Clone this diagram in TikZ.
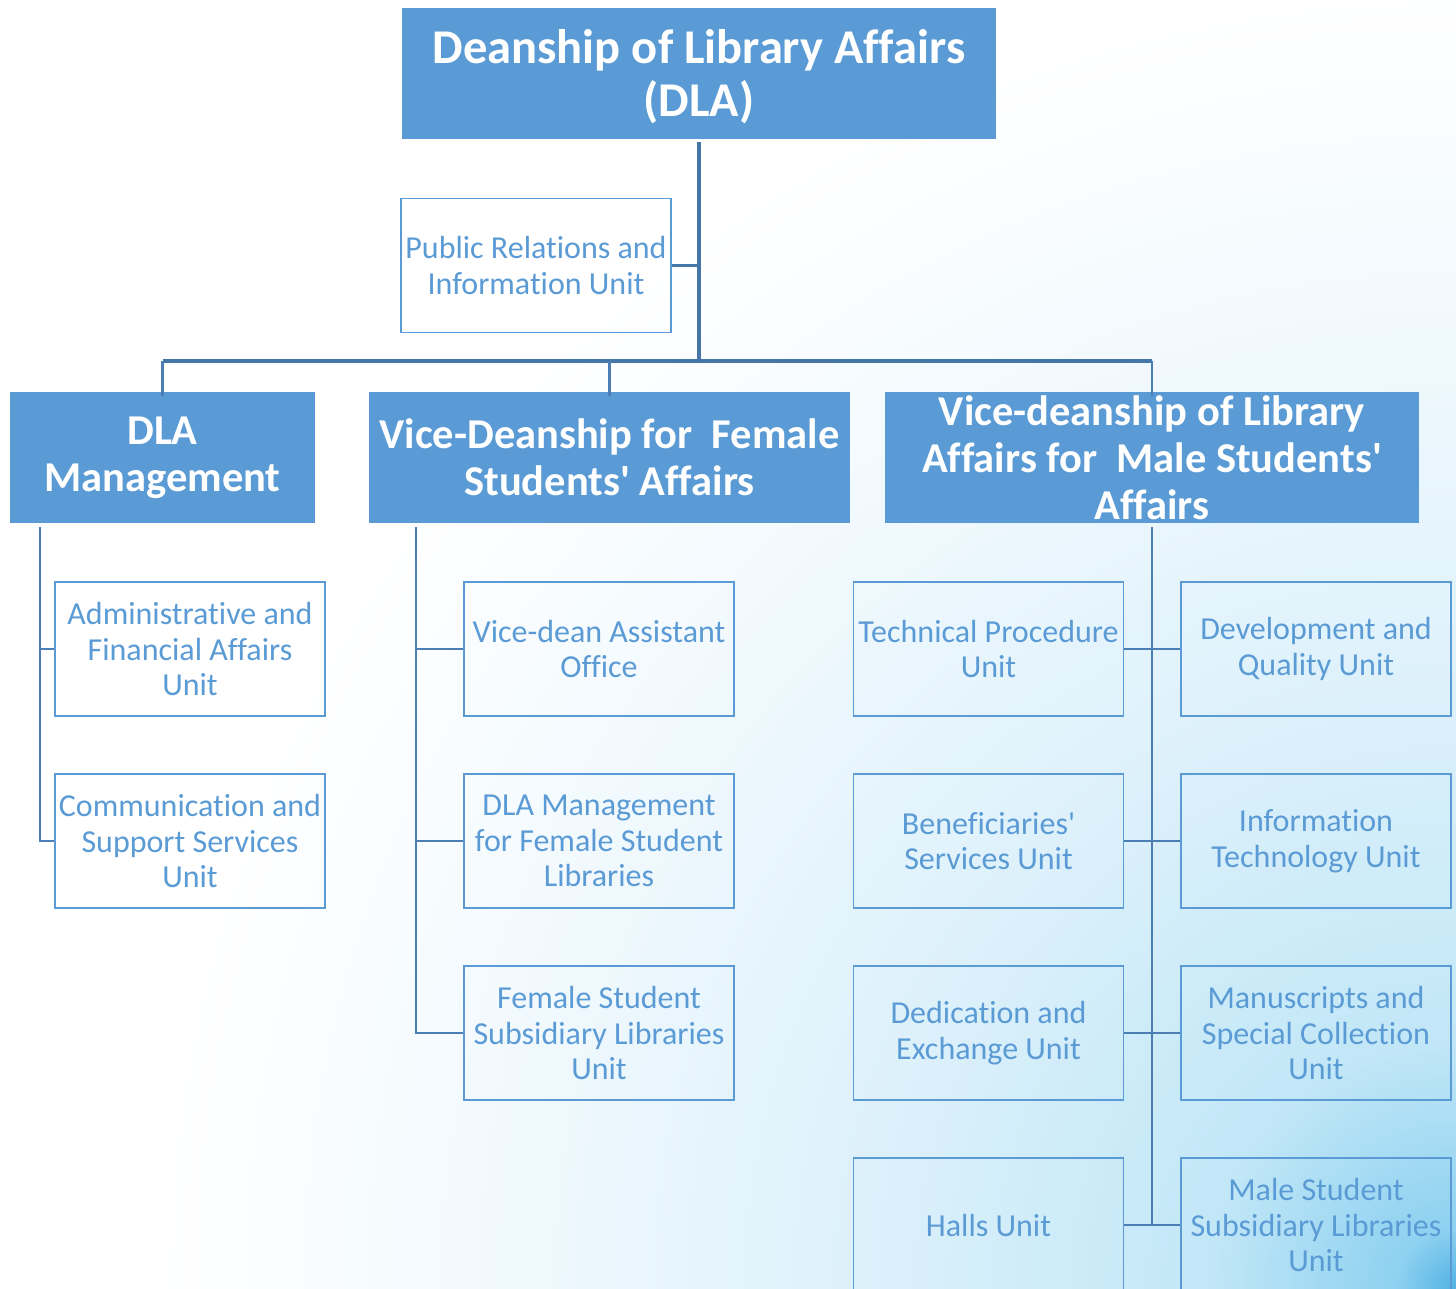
\documentclass[tikz,border=0pt]{standalone}
\usepackage{fontspec}
\setmainfont{Carlito}[Ligatures={TeXOff,NoCommon}]
\definecolor{hblue}{HTML}{5B9BD5}
\definecolor{tblue}{HTML}{5B9BD5}
\definecolor{bblue}{HTML}{5B9BD5}
\definecolor{lblue}{HTML}{4A7EB5}
\definecolor{dblue}{HTML}{4576A8}
\definecolor{bgzero}{HTML}{52B2E4}
\definecolor{bgone}{HTML}{8ED1F0}
\definecolor{bgtwo}{HTML}{C2E7F7}
\definecolor{bgthree}{HTML}{DDF1FB}
\definecolor{bgfour}{HTML}{F3FAFE}
\pgfdeclareradialshading{bgshade}{\pgfpoint{0bp}{0bp}}{color(0bp)=(bgzero); color(1.15bp)=(bgone); color(4.8bp)=(bgtwo); color(11.5bp)=(bgthree); color(19.25bp)=(bgfour); color(25bp)=(white); color(50bp)=(white)}
\begin{document}
\begin{tikzpicture}[x=1pt,y=-1pt,
  head/.style={fill=hblue, draw=none, text=white, inner sep=0pt, align=center,
    font=\bfseries\fontsize{42.5}{47}\selectfont},
  unitbox/.style={draw=bblue, line width=1.6pt, text=tblue, inner sep=0pt, align=center,
    minimum width=270pt, minimum height=134pt, font=\fontsize{32}{35.5}\selectfont},
  conn/.style={draw=lblue, line width=2.8pt},
  barline/.style={draw=dblue, line width=3.2pt}]
\useasboundingbox (0,0) rectangle (1456,1288);
\fill[white] (0,0) rectangle (1456,1288);
\begin{scope}
\clip (0,0) rectangle (1456,1288);
\shade[shading=bgshade] (156,-12) rectangle (2756,2588);
\end{scope}

% top
\node[head, minimum width=594pt, minimum height=131pt, font=\bfseries\fontsize{48.5}{53}\selectfont] (top) at (699,73.5) {\rule{0pt}{41pt}Deanship of Library Affairs\\(DLA)};
\node[unitbox, line width=1.3pt] (pr) at (536,265.5) {Public Relations and\\Information Unit};

% level 2
\node[head, minimum width=305pt, minimum height=131pt] (mgmt) at (162.5,457.5) {DLA\\Management};
\node[head, minimum width=481pt, minimum height=131pt] (fem) at (609.5,457.5) {Vice-Deanship for~ Female\\Students' Affairs};
\node[head, minimum width=534pt, minimum height=131pt] (male) at (1152,457.5) {Vice-deanship of Library\\Affairs for~ Male Students'\\Affairs};

% DLA management units
\node[unitbox] (admin) at (190,649) {Administrative and\\Financial Affairs\\Unit};
\node[unitbox] (comm) at (190,841) {Communication and\\Support Services\\Unit};

% female units
\node[unitbox] (fa) at (599,649) {Vice-dean Assistant\\Office};
\node[unitbox] (fb) at (599,841) {DLA Management\\for Female Student\\Libraries};
\node[unitbox] (fc) at (599,1033) {Female Student\\Subsidiary Libraries\\Unit};

% male units
\node[unitbox] (ma) at (988.5,649) {Technical Procedure\\Unit};
\node[unitbox] (mb) at (1316,649) {Development and\\Quality Unit};
\node[unitbox] (mc) at (988.5,841) {Beneficiaries'\\Services Unit};
\node[unitbox] (md) at (1316,841) {Information\\Technology Unit};
\node[unitbox] (me) at (988.5,1033) {Dedication and\\Exchange Unit};
\node[unitbox] (mf) at (1316,1033) {Manuscripts and\\Special Collection\\Unit};
\node[unitbox] (mg) at (988.5,1225) {Halls Unit};
\node[unitbox] (mh) at (1316,1225) {Male Student\\Subsidiary Libraries\\Unit};

% connectors top
\coordinate (bar) at (699,361);
\coordinate (barL) at (162.5,361);
\coordinate (barR) at (1152,361);
\draw[barline] ([yshift=-3pt]top.south) -- (bar);
\draw[barline] (pr.east) -- (pr.east -| bar);
\draw[barline] (barL) -- (barR);
\draw[conn, line width=2.2pt] (barL) -- ([yshift=-4pt]mgmt.north);
\draw[conn, line width=2.2pt] (fem.north |- bar) -- ([yshift=-4pt]fem.north);
\draw[conn, line width=2.2pt] (barR) -- ([yshift=-4pt]male.north);

% DLA management spine
\coordinate (ls) at (40,527);
\draw[conn] (ls) -- (ls |- comm.west) -- (comm.west);
\draw[conn] (ls |- admin.west) -- (admin.west);

% female spine
\coordinate (fs) at (416,527);
\draw[conn] (fs) -- (fs |- fc.west) -- (fc.west);
\draw[conn] (fs |- fa.west) -- (fa.west);
\draw[conn] (fs |- fb.west) -- (fb.west);

% male spine
\coordinate (ms) at (1152,527);
\draw[conn] (ms) -- (ms |- mg.east);
\draw[conn] (ma.east) -- (mb.west);
\draw[conn] (mc.east) -- (md.west);
\draw[conn] (me.east) -- (mf.west);
\draw[conn] (mg.east) -- (mh.west);
\end{tikzpicture}
\end{document}
